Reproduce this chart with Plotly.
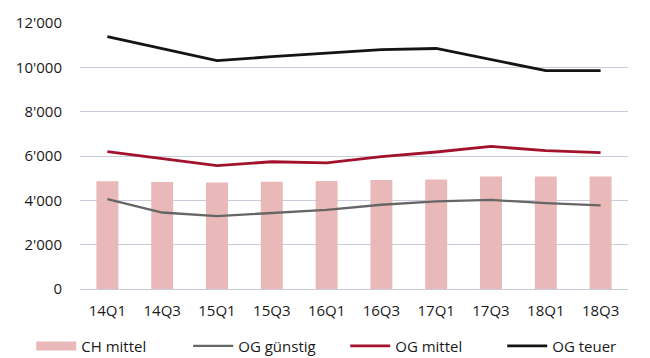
import plotly.graph_objects as go

# Quarterly price series
quarters = ["14Q1", "14Q3", "15Q1", "15Q3", "16Q1", "16Q3", "17Q1", "17Q3", "18Q1", "18Q3"]
ch_mittel = [4860, 4830, 4810, 4840, 4870, 4920, 4940, 5080, 5070, 5070]
og_guenstig = [4050, 3450, 3290, 3420, 3570, 3800, 3950, 4020, 3870, 3770]
og_mittel = [6200, 5900, 5570, 5740, 5690, 5970, 6180, 6430, 6240, 6150]
og_teuer = [11380, 10850, 10300, 10480, 10650, 10800, 10850, 10350, 9850, 9850]

y_ticks = [0, 2000, 4000, 6000, 8000, 10000, 12000]
y_tick_text = ["0", "2'000", "4'000", "6'000", "8'000", "10'000", "12'000"]

BAR_COLOR = "#e9b8b8"
FONT = "Open Sans"
TEXT_COLOR = "#1a1a1a"

fig = go.Figure()

fig.add_trace(go.Bar(
    x=quarters, y=ch_mittel, name="CH mittel",
    marker=dict(color=BAR_COLOR, line=dict(width=0)),
    width=0.4, showlegend=False,
))
# legend entry for the bars, drawn as a broad pink stroke
fig.add_trace(go.Scatter(
    x=[None], y=[None], mode="lines", name="CH mittel",
    line=dict(color=BAR_COLOR, width=9),
))
fig.add_trace(go.Scatter(
    x=quarters, y=og_guenstig, mode="lines", name="OG günstig",
    line=dict(color="#666666", width=2.3),
))
fig.add_trace(go.Scatter(
    x=quarters, y=og_mittel, mode="lines", name="OG mittel",
    line=dict(color="#a3122c", width=2.8),
))
fig.add_trace(go.Scatter(
    x=quarters, y=og_teuer, mode="lines", name="OG teuer",
    line=dict(color="#141414", width=2.8),
))

fig.update_layout(
    width=650, height=358,
    margin=dict(l=80, r=22, t=23, b=69, autoexpand=False),
    paper_bgcolor="white", plot_bgcolor="white",
    font=dict(family=FONT, size=15, color=TEXT_COLOR),
    bargap=0.6,
    legend=dict(
        orientation="h",
        x=-0.089, y=-0.215, xanchor="left", yanchor="middle",
        font=dict(size=15, color=TEXT_COLOR),
        entrywidth=102, entrywidthmode="pixels",
        itemwidth=40,
        bgcolor="rgba(0,0,0,0)",
    ),
    xaxis=dict(
        type="category",
        showgrid=False, showline=False, zeroline=False,
        ticks="outside", ticklen=8, tickcolor="rgba(0,0,0,0)",
        tickfont=dict(size=15),
    ),
    yaxis=dict(
        range=[0, 12000],
        tickvals=y_ticks, ticktext=y_tick_text,
        showgrid=True, gridcolor="#c9cbd9", gridwidth=1,
        zeroline=True, zerolinecolor="#c9cbd9", zerolinewidth=1,
        showline=False,
        ticks="outside", ticklen=14, tickcolor="rgba(0,0,0,0)",
        tickfont=dict(size=15),
    ),
)

fig.write_html("out.html")
